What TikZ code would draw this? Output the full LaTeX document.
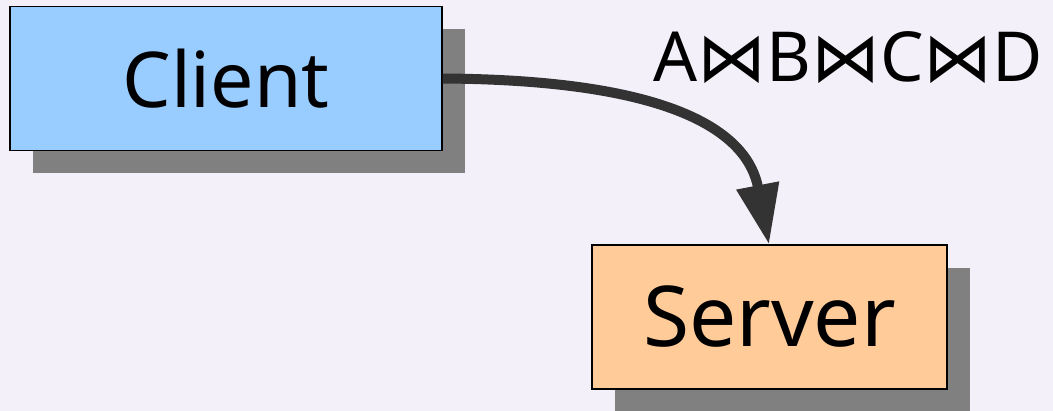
\documentclass[tikz,border=0pt]{standalone}
\usepackage{fontspec}
\setmainfont{Noto Sans}
\newfontfamily\symfont{DejaVu Sans}
\usetikzlibrary{arrows.meta,shadows}

\definecolor{bgcol}{HTML}{F4F0FA}
\definecolor{clientfill}{HTML}{99CCFF}
\definecolor{serverfill}{HTML}{FFCC99}
\definecolor{shadowcol}{HTML}{808080}
\definecolor{arrowcol}{HTML}{333333}

\tikzset{
  box/.style={draw=black, line width=1.2pt, inner sep=0pt,
    drop shadow={shadow xshift=23pt, shadow yshift=-23pt, fill=shadowcol, opacity=1}},
  flow/.style={draw=arrowcol, line width=10pt,
    -{Triangle[length=60pt,width=41pt]}}
}
\newcommand{\jn}{{\symfont ⋈}}

\begin{document}
\begin{tikzpicture}[x=1pt,y=-1pt]
  \fill[bgcol] (0,0) rectangle (1053,411);
  \useasboundingbox (0,0) rectangle (1053,411);

  \node[box, fill=clientfill, minimum width=432pt, minimum height=144pt,
    font=\fontsize{77}{80}\selectfont]
    (client) at (226,78.5) {Client};
  \node[box, fill=serverfill, minimum width=355pt, minimum height=144pt,
    font=\fontsize{84}{88}\selectfont]
    (server) at (769.5,317) {Server};

  \node[anchor=base west, inner sep=0pt, font=\fontsize{69}{72}\selectfont]
    (join) at (653,82) {A\jn B\jn C\jn D};

  \coordinate (tip) at (server.north -| 769,0);
  \draw[flow] (client.east) .. controls (680,80) and (748,135) .. (tip);
\end{tikzpicture}
\end{document}
